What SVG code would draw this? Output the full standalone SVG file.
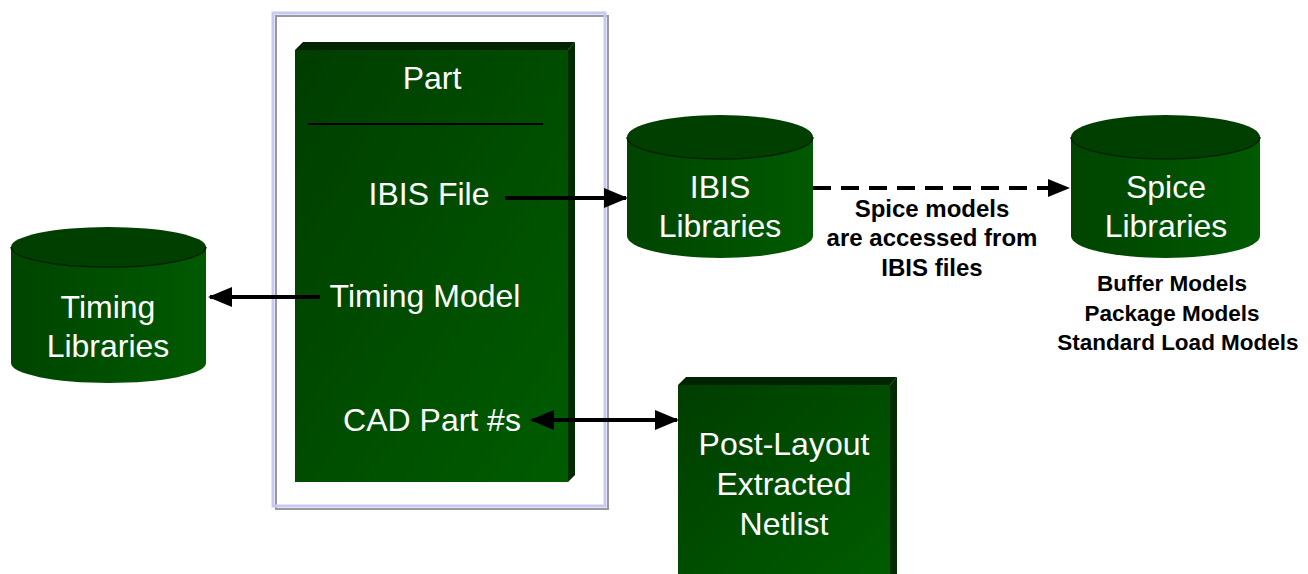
<svg xmlns="http://www.w3.org/2000/svg" width="1308" height="574" viewBox="0 0 1308 574">
<defs>
<linearGradient id="face" x1="0" y1="0" x2="1" y2="1">
<stop offset="0" stop-color="#003d00"/>
<stop offset="1" stop-color="#005c00"/>
</linearGradient>
<linearGradient id="cyl" x1="0" y1="0" x2="1" y2="0">
<stop offset="0" stop-color="#004400"/>
<stop offset="1" stop-color="#005a00"/>
</linearGradient>
<marker id="ah" markerWidth="6" markerHeight="5" refX="5.5" refY="2.5" orient="auto" markerUnits="strokeWidth">
<path d="M0,0 L6,2.5 L0,5 Z" fill="#000"/>
</marker>
<marker id="ahs" markerWidth="6" markerHeight="5" refX="0.5" refY="2.5" orient="auto" markerUnits="strokeWidth">
<path d="M6,0 L0,2.5 L6,5 Z" fill="#000"/>
</marker>
</defs>
<style>
.wt{font-family:"Liberation Sans",Arial,sans-serif;fill:#fff;font-size:32px;text-anchor:middle}
.bt{font-family:"Liberation Sans",Arial,sans-serif;fill:#000;font-size:22.5px;font-weight:bold;text-anchor:middle}
.mt{font-size:24px}
.side{fill:#002a00}
.top{fill:#002400}
.conn{stroke:#000;stroke-width:4;fill:none}
</style>
<rect width="1308" height="574" fill="#fff"/>
<g id="frame">
<rect x="276" y="16" width="332" height="493" fill="none" stroke="#999" stroke-width="2"/>
<rect x="273" y="13" width="332" height="493" fill="none" stroke="#c8c8f4" stroke-width="3"/>
</g>
<g id="part">
<polygon class="top" points="295,50 303,42 575,42 568,50"/>
<polygon class="side" points="568,50 575,42 575,475 568,482"/>
<rect x="295" y="50" width="273" height="432" fill="url(#face)"/>
<line x1="308" y1="124" x2="543" y2="124" stroke="#000" stroke-width="2"/>
<text class="wt" x="432" y="89">Part</text>
<text class="wt" x="429" y="205">IBIS File</text>
<text class="wt" x="425" y="307">Timing Model</text>
<text class="wt" x="432" y="431">CAD Part #s</text>
</g>
<g id="timing">
<path d="M11,247 L11,363 A97.5,20 0 0 0 206,363 L206,247 Z" fill="url(#cyl)"/>
<ellipse cx="108.5" cy="247" rx="97.5" ry="20" fill="#003f00"/>
<path d="M11,247 A97.5,20 0 0 0 206,247" fill="none" stroke="#002400" stroke-width="1.5"/>
<text class="wt" x="108" y="318">Timing</text>
<text class="wt" x="108" y="357">Libraries</text>
</g>
<g id="ibis">
<path d="M627,137 L627,236 A93,22 0 0 0 813,236 L813,137 Z" fill="url(#cyl)"/>
<ellipse cx="720" cy="137" rx="93" ry="22" fill="#003f00"/>
<path d="M627,137 A93,22 0 0 0 813,137" fill="none" stroke="#002400" stroke-width="1.5"/>
<text class="wt" x="720" y="198">IBIS</text>
<text class="wt" x="720" y="237">Libraries</text>
</g>
<g id="spice">
<path d="M1071,137 L1071,236 A94.5,22 0 0 0 1260,236 L1260,137 Z" fill="url(#cyl)"/>
<ellipse cx="1165.5" cy="137" rx="94.5" ry="22" fill="#003f00"/>
<path d="M1071,137 A94.5,22 0 0 0 1260,137" fill="none" stroke="#002400" stroke-width="1.5"/>
<text class="wt" x="1166" y="198">Spice</text>
<text class="wt" x="1166" y="237">Libraries</text>
</g>
<g id="spice-notes">
<text class="bt" x="1172" y="291">Buffer Models</text>
<text class="bt" x="1172" y="321">Package Models</text>
<text class="bt" x="1178" y="350">Standard Load Models</text>
</g>
<g id="postlayout">
<polygon class="top" points="678,385 686,377 897,377 890,385"/>
<polygon class="side" points="890,385 897,377 897,574 890,574"/>
<rect x="678" y="385" width="212" height="189" fill="url(#face)"/>
<text class="wt" x="784" y="455">Post-Layout</text>
<text class="wt" x="784" y="495">Extracted</text>
<text class="wt" x="784" y="535">Netlist</text>
</g>
<g id="connectors">
<line class="conn" x1="505" y1="198" x2="626" y2="198" marker-end="url(#ah)"/>
<line class="conn" x1="320" y1="297" x2="210" y2="297" marker-end="url(#ah)"/>
<line class="conn" x1="532" y1="420" x2="677" y2="420" marker-start="url(#ahs)" marker-end="url(#ah)"/>
<line class="conn" x1="813" y1="188" x2="1052" y2="188" stroke-dasharray="18,10"/>
<path d="M1048,179 L1070,188 L1048,197 Z" fill="#000"/>
<text class="bt mt" x="932" y="217">Spice models</text>
<text class="bt mt" x="932" y="246">are accessed from</text>
<text class="bt mt" x="932" y="276">IBIS files</text>
</g>
</svg>
